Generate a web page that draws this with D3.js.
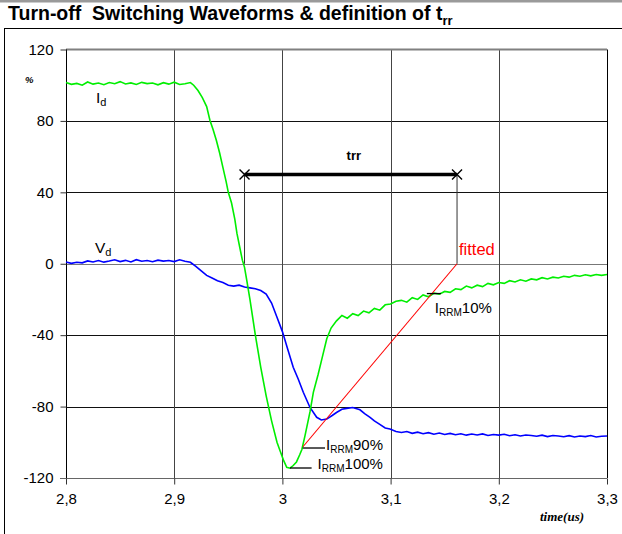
<!DOCTYPE html>
<html><head><meta charset="utf-8">
<script src="https://cdn.jsdelivr.net/npm/d3@7"></script>
<style>body{margin:0;background:#fff}svg{display:block;font-family:"Liberation Sans",Arial,sans-serif}</style>
</head><body><svg id="c" width="622" height="534"></svg>
<script>
// ---- data ----
const xTicks = [2.8, 2.9, 3.0, 3.1, 3.2, 3.3];
const xTickLabels = ["2,8", "2,9", "3", "3,1", "3,2", "3,3"];
const yTicks = [120, 80, 40, 0, -40, -80, -120];
const yTickLabels = ["120", "80", "40", "0", "-40", "-80", "-120"];

const idTime = [2.800,2.805,2.810,2.815,2.820,2.825,2.830,2.835,2.840,2.845,2.850,2.855,2.860,2.865,2.870,2.875,2.880,2.885,2.890,2.895,2.900,2.905,2.910,2.915,
  2.918,2.922,2.926,2.930,2.933,2.936,2.939,2.942,2.945,2.948,2.950,2.953,2.956,2.958,2.961,2.963,2.965,2.967,2.970,2.975,2.980,2.985,2.990,2.995,2.998,3.001,3.004,3.007,3.010,3.013,3.016,3.018,3.021,3.0255,3.0286,3.033,3.037,3.041,
  3.045,3.050,3.055,3.060,3.065,3.070,3.075,3.080,3.085,3.090,3.095,3.100,3.105,3.110,3.115,3.120,3.125,3.130,3.135,3.140,3.145,3.150,3.155,3.160,3.165,3.170,3.175,3.180,3.185,3.190,3.195,3.200,3.205,3.210,3.215,3.220,3.225,3.230,3.235,3.240,3.245,3.250,3.255,3.260,3.265,3.270,3.275,3.280,3.285,3.290,3.295,3.300];
const idValue = [101.5,100.5,101,100,101.8,100.6,101.2,100.3,101.5,100.8,102,100.7,101.3,100.4,101.6,100.9,101.2,100.2,101.4,100.6,101.7,100.4,100.8,101.5,
  100,97,93,88,80.4,75,69,62,54,46,40,34,25,17,8,2,-2,-9,-20,-40,-58,-74,-88,-100,-105,-110,-114,-114.5,-113,-111,-107,-104,-96,-83,-72,-62,-52,-42,
  -36,-32,-29,-30.5,-28,-29,-26.5,-27.5,-25,-26,-23,-22.5,-21,-20.5,-21.5,-19,-20,-17.5,-18.5,-16.5,-17,-15.5,-16,-14,-14.5,-12.5,-13.5,-12,-12.8,-11,-11.8,-10.5,-11,-9.5,-10.2,-9,-9.8,-8.5,-9,-7.8,-8.5,-7.5,-8,-7,-7.5,-6.5,-7,-6.2,-6.8,-6,-6.5,-6];

const vdTime = [2.800,2.805,2.810,2.815,2.820,2.825,2.830,2.835,2.840,2.845,2.850,2.855,2.860,2.865,2.870,2.875,2.880,2.885,2.890,2.895,2.900,2.905,2.910,2.915,
  2.920,2.925,2.930,2.935,2.940,2.945,2.950,2.955,2.960,2.965,2.970,2.975,2.980,2.985,2.990,2.995,3.000,3.005,3.010,3.0147,3.0193,3.0255,3.0317,3.036,3.041,3.046,3.050,3.055,3.0594,3.065,3.0717,3.076,3.081,3.085,3.090,3.095,3.0994,
  3.105,3.110,3.115,3.120,3.125,3.130,3.135,3.140,3.145,3.150,3.155,3.160,3.165,3.170,3.175,3.180,3.185,3.190,3.195,3.200,3.205,3.210,3.215,3.220,3.225,3.230,3.235,3.240,3.245,3.250,3.255,3.260,3.265,3.270,3.275,3.280,3.285,3.290,3.295,3.300];
const vdValue = [1.0,0.2,0.8,0.5,1.6,1.0,1.8,0.9,1.5,2.2,1.2,1.9,1.0,2.3,1.4,1.8,1.1,2.0,1.5,1.8,1.2,2.2,1.4,0.8,
  -1.5,-4,-6.5,-8,-9.5,-10.5,-12,-12.5,-12,-13,-13.5,-14,-15,-17,-22,-30,-38,-48,-58,-64.7,-72,-80.5,-86,-87.5,-87,-85,-83.3,-81.5,-81,-80.5,-81.8,-84,-86,-88,-90,-92,-92.6,
  -94,-94.5,-94,-95,-94.3,-95.2,-94.6,-95.5,-94.8,-95.6,-95,-95.8,-95.2,-96,-95.4,-95.9,-95.3,-96.2,-95.6,-96,-95.5,-96.3,-95.8,-96.5,-95.9,-96.2,-96.6,-96,-96.8,-96.2,-96.5,-96.9,-96.3,-97,-96.5,-96.8,-96.2,-97,-96.6,-96.5];

const fittedTime = [3.019, 3.1614];
const fittedValue = [-102.5, 0];
const trrStart = 2.965, trrEnd = 3.1614, trrLevel = 50;
const irrm90 = {t0: 3.0188, t1: 3.0394, v: -103.2};
const irrm100 = {t0: 3.007, t1: 3.027, v: -114.4};
const irrm10 = {t0: 3.1335, t1: 3.1465, v: -16.7};

// ---- chart ----
const svg = d3.select("#c");
const x = d3.scaleLinear().domain([2.8, 3.3]).range([66, 607]);
const y = d3.scaleLinear().domain([-120, 120]).range([478, 49.5]);

svg.append("rect").attr("x",0).attr("y",0).attr("width",622).attr("height",2.5).attr("fill","#9a9a9a");
svg.append("line").attr("x1",4).attr("x2",622).attr("y1",28.5).attr("y2",28.5).attr("stroke","#000");
svg.append("line").attr("x1",4.5).attr("x2",4.5).attr("y1",28).attr("y2",534).attr("stroke","#000");

const title = svg.append("text").attr("x",8).attr("y",20).attr("font-size",19.5).attr("font-weight","bold").style("white-space","pre");
title.append("tspan").text("Turn-off  Switching Waveforms & definition of t");
title.append("tspan").attr("font-size",13).attr("dy",5).text("rr");

// grid
svg.append("g").selectAll("line").data(yTicks.filter(d => d !== 120 && d !== -120)).join("line")
  .attr("x1",x(2.8)).attr("x2",x(3.3)).attr("y1",d=>Math.round(y(d))+0.5).attr("y2",d=>Math.round(y(d))+0.5)
  .attr("stroke",d=> d===0 ? "#777" : "#111");
svg.append("g").selectAll("line").data(xTicks.filter(d => d>2.8 && d<3.3)).join("line")
  .attr("x1",d=>Math.round(x(d))+0.5).attr("x2",d=>Math.round(x(d))+0.5).attr("y1",y(120)).attr("y2",y(-120))
  .attr("stroke","#444");
// plot border top (gray) and right
svg.append("line").attr("x1",x(2.8)).attr("x2",x(3.3)).attr("y1",y(120)).attr("y2",y(120)).attr("stroke","#808080").attr("stroke-width",2);
svg.append("line").attr("x1",x(3.3)+0.5).attr("x2",x(3.3)+0.5).attr("y1",y(120)).attr("y2",y(-120)).attr("stroke","#000");

// axes
const yAxis = d3.axisLeft(y).tickValues(yTicks).tickFormat((d,i)=>yTickLabels[i]).tickSize(6).tickPadding(7);
const gy = svg.append("g").attr("transform",`translate(${Math.round(x(2.8))+0.5},0)`).call(yAxis);
gy.select(".domain").attr("stroke","#000").attr("d",`M0,${y(120)}V${y(-120)+6}`);
gy.selectAll(".tick line").attr("stroke","#333");
gy.selectAll("text").attr("font-size",15).attr("font-family","Liberation Sans, Arial, sans-serif").attr("fill","#000");

const xAxis = d3.axisBottom(x).tickValues(xTicks).tickFormat((d,i)=>xTickLabels[i]).tickSize(6).tickPadding(9);
const gx = svg.append("g").attr("transform",`translate(0,${Math.round(y(-120))+0.5})`).call(xAxis);
gx.select(".domain").attr("stroke","#666").attr("d",`M${x(2.8)-6},0H${x(3.3)}`);
gx.selectAll(".tick line").attr("stroke","#333");
gx.selectAll("text").attr("font-size",15).attr("font-family","Liberation Sans, Arial, sans-serif").attr("fill","#000");

// curves
const line = d3.line().x(d=>x(d[0])).y(d=>y(d[1]));
svg.append("path").attr("d", line(vdTime.map((t,i)=>[t,vdValue[i]]))).attr("fill","none").attr("stroke","#0000ff").attr("stroke-width",1.6);
svg.append("path").attr("d", line(idTime.map((t,i)=>[t,idValue[i]]))).attr("fill","none").attr("stroke","#00ee00").attr("stroke-width",1.6);
svg.append("path").attr("d", line(fittedTime.map((t,i)=>[t,fittedValue[i]]))).attr("fill","none").attr("stroke","#ff0000").attr("stroke-width",1.1);

// trr markers
[trrStart, trrEnd].forEach(t=>{
  svg.append("line").attr("x1",x(t)).attr("x2",x(t)).attr("y1",y(trrLevel)).attr("y2",y(0)).attr("stroke","#333").attr("stroke-width",1);
  const cx = x(t), cy = y(trrLevel), s = 5;
  svg.append("path").attr("d",`M${cx-s},${cy-s}L${cx+s},${cy+s}M${cx-s},${cy+s}L${cx+s},${cy-s}`).attr("stroke","#000").attr("stroke-width",1.4);
});
svg.append("line").attr("x1",x(trrStart)).attr("x2",x(trrEnd)).attr("y1",y(trrLevel)).attr("y2",y(trrLevel)).attr("stroke","#000").attr("stroke-width",3.5);
svg.append("text").attr("x",(x(trrStart)+x(trrEnd))/2+3).attr("y",160).attr("text-anchor","middle").attr("font-size",13).attr("font-weight","bold").text("trr");

// IRRM marks
[irrm90, irrm100, irrm10].forEach(m=>{
  svg.append("line").attr("x1",x(m.t0)).attr("x2",x(m.t1)).attr("y1",y(m.v)).attr("y2",y(m.v)).attr("stroke","#000").attr("stroke-width",1.3);
});
function irrmLabel(px, py, pct){
  const t = svg.append("text").attr("x",px).attr("y",py).attr("font-size",15);
  t.append("tspan").text("I");
  t.append("tspan").attr("font-size",10).attr("dy",3).text("RRM");
  t.append("tspan").attr("dy",-3).text(pct);
}
irrmLabel(x(irrm90.t1)+1, y(irrm90.v)+2, "90%");
irrmLabel(x(irrm100.t1)+6, y(irrm100.v)+1, "100%");
irrmLabel(x(irrm10.t0)+8, y(irrm10.v)+19, "10%");

svg.append("text").attr("x",459).attr("y",255).attr("font-size",16.5).attr("fill","#ff0000").text("fitted");

// series labels
function subLabel(px, py, main, sub){
  const t = svg.append("text").attr("x",px).attr("y",py).attr("font-size",15.5);
  t.append("tspan").text(main);
  t.append("tspan").attr("font-size",11).attr("dy",3).text(sub);
}
subLabel(96, 103, "I", "d");
subLabel(95, 253, "V", "d");
svg.append("text").attr("x",25).attr("y",83).attr("font-size",9.5).attr("font-weight","bold").attr("font-style","italic").text("%");
svg.append("text").attr("x",540).attr("y",521).attr("font-size",13).attr("font-weight","bold").attr("font-style","italic").attr("font-family","Liberation Serif, Times New Roman, serif").text("time(us)");
</script></body></html>
